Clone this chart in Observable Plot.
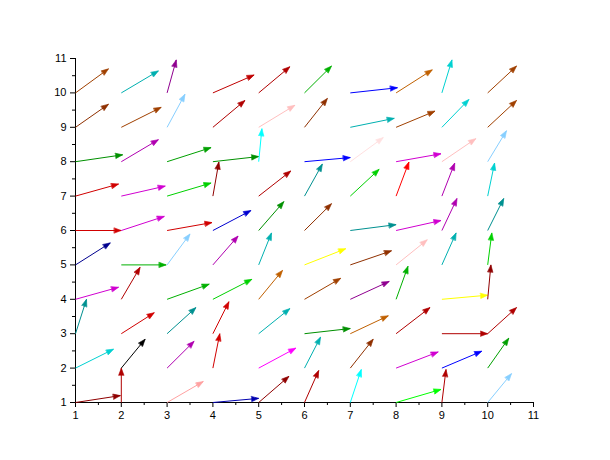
<!DOCTYPE html>
<html><head><meta charset="utf-8">
<script src="https://cdn.jsdelivr.net/npm/d3@7"></script>
<script src="https://cdn.jsdelivr.net/npm/@observablehq/plot@0.6"></script>
<style>html,body{margin:0;padding:0;background:#fff}</style>
</head><body><div id="chart"></div>
<script>
// grid positions
const gridX = [1,2,3,4,5,6,7,8,9,10];
const gridY = [1,2,3,4,5,6,7,8,9,10];
const xTicks = [1,2,3,4,5,6,7,8,9,10,11];
const yTicks = [1,2,3,4,5,6,7,8,9,10,11];

// horizontal components, one row per y value (y = 1 .. 10)
const uRows = [
  [0.98, 0.00, 0.79, 1.00, 0.66, 0.31, 0.24, 0.98, 0.09, 0.52],
  [0.83, 0.52, 0.59, 0.15, 0.81, 0.35, 0.50, 0.92, 0.87, 0.46],
  [0.24, 0.72, 0.63, 0.35, 0.68, 1.00, 0.83, 0.74, 1.00, 0.63],
  [0.94, 0.41, 0.92, 0.85, 0.52, 0.79, 0.85, 0.26, 1.00, 0.07],
  [0.76, 0.98, 0.50, 0.55, 0.28, 0.90, 0.90, 0.68, 0.31, 0.09],
  [1.00, 0.94, 0.98, 0.83, 0.55, 0.59, 1.00, 0.98, 0.33, 0.35],
  [0.94, 0.96, 0.96, 0.13, 0.70, 0.39, 0.63, 0.28, 0.28, 0.15],
  [1.03, 0.81, 0.96, 1.00, 0.07, 1.00, 0.72, 0.98, 0.74, 0.41],
  [0.72, 0.87, 0.39, 0.70, 0.79, 0.50, 0.96, 0.85, 0.59, 0.63],
  [0.72, 0.81, 0.20, 0.90, 0.68, 0.59, 1.03, 0.79, 0.22, 0.63]
];
// vertical components
const vRows = [
  [0.20, 1.00, 0.61, 0.12, 0.76, 0.93, 0.96, 0.38, 0.96, 0.84],
  [0.55, 0.84, 0.78, 1.00, 0.58, 0.90, 0.84, 0.47, 0.49, 0.87],
  [1.00, 0.61, 0.76, 0.93, 0.73, 0.15, 0.52, 0.76, 0.00, 0.76],
  [0.35, 0.93, 0.44, 0.58, 0.84, 0.61, 0.52, 0.96, 0.12, 1.00],
  [0.64, 0.00, 0.90, 0.84, 0.93, 0.47, 0.41, 0.73, 0.93, 0.93],
  [0.00, 0.41, 0.23, 0.58, 0.84, 0.78, 0.17, 0.29, 0.93, 0.93],
  [0.35, 0.29, 0.38, 0.99, 0.73, 0.93, 0.78, 0.99, 0.96, 0.96],
  [0.20, 0.64, 0.41, 0.15, 0.96, 0.12, 0.70, 0.23, 0.67, 0.90],
  [0.67, 0.58, 0.96, 0.78, 0.64, 0.84, 0.26, 0.47, 0.81, 0.78],
  [0.70, 0.64, 0.96, 0.52, 0.76, 0.78, 0.15, 0.67, 0.96, 0.78]
];
// arrow colours
const colorRows = [
  ["#8f0000","#b00000","#ffa1a1","#0000b0","#8f0000","#b00000","#00ffff","#00ff00","#b00000","#87cfff"],
  ["#00d1d1","#000000","#b000b0","#d10000","#ff00ff","#00b0b0","#8f3000","#d100d1","#0000ff","#00a000"],
  ["#009090","#d10000","#009090","#d10000","#00b0b0","#008f00","#c06000","#b00000","#b00000","#b00000"],
  ["#d100d1","#b00000","#00b000","#00d100","#c06000","#a04000","#8f008f","#00b000","#ffff00","#8f0000"],
  ["#00008f","#00b000","#87cfff","#b000b0","#00b0b0","#ffff00","#8f3000","#ffbfbf","#00b0b0","#00d100"],
  ["#d10000","#d100d1","#d10000","#0000d1","#009000","#8f3000","#009090","#d100d1","#b000b0","#009090"],
  ["#d10000","#d100d1","#00d100","#8f0000","#b00000","#009090","#00d100","#ff0000","#b000b0","#00d1d1"],
  ["#009000","#b000b0","#00a000","#009000","#00ffff","#0000ff","#ffe0e0","#d100d1","#ffbfbf","#87cfff"],
  ["#8f3000","#a04000","#87cfff","#b00000","#ffbfbf","#8f3000","#00b0b0","#a04000","#00d1d1","#a04000"],
  ["#a04000","#00b0b0","#8f008f","#c00000","#b00000","#00b000","#0000ff","#c06000","#00d1d1","#a04000"]
];

const arrows = [];
gridY.forEach((y, j) => gridX.forEach((x, i) => {
  arrows.push({x, y, u: uRows[j][i], v: vRows[j][i], c: colorRows[j][i]});
}));

const font = "'Liberation Sans', Arial, sans-serif";
const chart = Plot.plot({
  width: 610, height: 460,
  marginLeft: 75, marginRight: 77, marginTop: 58, marginBottom: 58,
  style: {fontFamily: font, fontSize: "11px", background: "#fff", overflow: "visible"},
  x: {domain: [1, 11]},
  y: {domain: [1, 11]},
  marks: [
    Plot.axisX(xTicks, {tickSize: 5, tickPadding: 4, fontSize: 11, label: null, stroke: "#000", color: "#000"}),
    Plot.axisX(d3.range(1.5, 11, 1), {tickSize: 3, tickFormat: () => "", label: null, stroke: "#000"}),
    Plot.axisY(yTicks, {tickSize: 5, tickPadding: 4, fontSize: 11, label: null, stroke: "#000", color: "#000"}),
    Plot.axisY(d3.range(1.5, 11, 1), {tickSize: 3, tickFormat: () => "", label: null, stroke: "#000"}),
    Plot.ruleY([1], {stroke: "#000", strokeWidth: 1}),
    Plot.ruleX([1], {stroke: "#000", strokeWidth: 1}),
    Plot.link(arrows, {
      x1: "x", y1: "y",
      x2: d => d.x + d.u, y2: d => d.y + d.v,
      stroke: d => d.c, strokeWidth: 1, strokeOpacity: 1,
      markerEnd: "arrow"
    })
  ]
});

// turn Plot's open arrow markers into small filled triangles
chart.querySelectorAll("marker").forEach(m => {
  const col = m.getAttribute("stroke") || "#000";
  m.setAttribute("viewBox", "-8 -4 9 8");
  m.setAttribute("markerWidth", "9");
  m.setAttribute("markerHeight", "8");
  m.setAttribute("markerUnits", "userSpaceOnUse");
  m.setAttribute("refX", "0");
  m.setAttribute("refY", "0");
  m.setAttribute("fill", col);
  m.setAttribute("stroke", col);
  m.setAttribute("stroke-width", "0.6");
  m.querySelectorAll("path").forEach(p => p.setAttribute("d", "M-7,-2.6L0,0L-7,2.6Z"));
});
document.getElementById("chart").appendChild(chart);
</script>
</body></html>
